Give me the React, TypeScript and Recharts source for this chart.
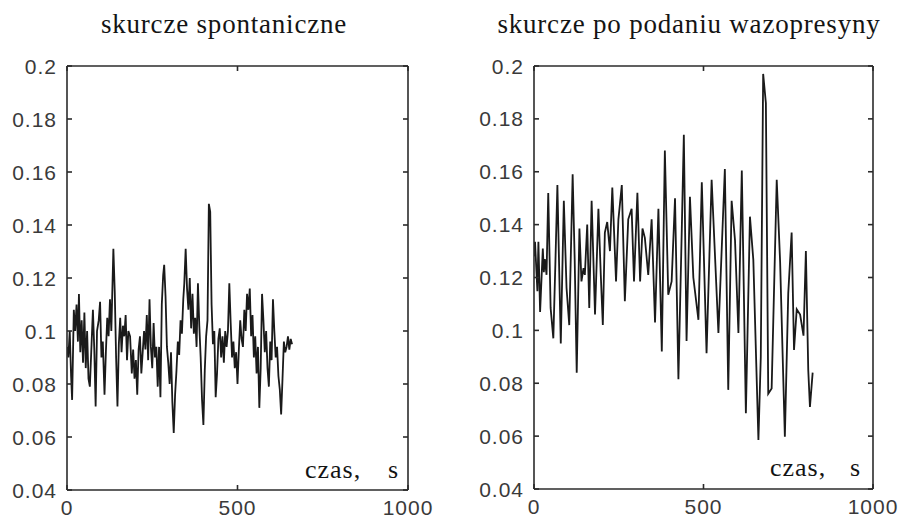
import React from 'react';
import { LineChart, Line, XAxis, YAxis } from 'recharts';

// ---- data ----
const leftTime = [0,4,8,12,15,20,24,28,32,35,39,43,47,51,55,59,63,67,72,76,80,84,88,93,97,101,105,110,114,118,122,126,130,136,140,144,148,152,156,160,164,168,172,176,180,185,190,194,198,202,206,210,214,218,222,226,230,234,238,242,246,250,254,258,262,266,270,274,278,282,285,289,293,297,301,305,309,313,317,321,325,329,333,337,341,344,348,352,356,360,364,368,372,376,380,384,388,392,396,400,404,408,412,416,420,424,428,432,436,440,444,448,452,456,460,464,468,472,476,480,484,488,492,496,500,504,508,512,516,520,524,528,532,536,540,544,548,552,556,560,564,568,572,576,580,584,588,592,596,600,604,608,612,616,620,624,628,632,636,640,644,648,652,656,660];
const leftValue = [0.094,0.090,0.100,0.083,0.074,0.108,0.100,0.110,0.096,0.114,0.092,0.104,0.088,0.107,0.086,0.100,0.082,0.079,0.095,0.108,0.093,0.0715,0.100,0.104,0.111,0.090,0.096,0.076,0.092,0.105,0.098,0.112,0.100,0.131,0.115,0.090,0.0715,0.095,0.105,0.092,0.102,0.098,0.106,0.089,0.100,0.098,0.084,0.093,0.082,0.089,0.076,0.093,0.098,0.084,0.092,0.100,0.093,0.106,0.089,0.112,0.094,0.086,0.103,0.090,0.094,0.079,0.094,0.075,0.110,0.121,0.125,0.113,0.094,0.088,0.080,0.092,0.073,0.0615,0.076,0.085,0.096,0.091,0.104,0.099,0.112,0.118,0.131,0.116,0.108,0.120,0.101,0.114,0.099,0.105,0.094,0.118,0.102,0.090,0.074,0.0645,0.085,0.098,0.104,0.148,0.145,0.110,0.095,0.100,0.075,0.084,0.097,0.101,0.090,0.098,0.088,0.100,0.094,0.100,0.118,0.103,0.090,0.096,0.086,0.092,0.080,0.093,0.104,0.097,0.094,0.108,0.100,0.114,0.108,0.116,0.098,0.106,0.090,0.098,0.084,0.094,0.071,0.086,0.114,0.104,0.092,0.100,0.086,0.079,0.096,0.089,0.112,0.100,0.090,0.094,0.083,0.078,0.0685,0.082,0.096,0.092,0.094,0.098,0.093,0.097,0.095];

const rightTime = [0,3,10,13,18,26,29,32,37,42,49,57,63,69,79,88,96,104,114,120,126,134,140,146,150,157,163,170,180,190,197,203,209,216,224,231,242,249,259,268,278,288,295,305,313,320,327,337,347,357,367,377,386,396,406,416,426,436,442,450,460,470,485,495,509,524,544,563,573,583,593,603,613,625,637,647,662,669,676,684,691,701,716,726,740,750,760,767,775,785,795,802,809,814,822];
const rightValue = [0.128,0.1335,0.1148,0.1335,0.107,0.131,0.122,0.127,0.121,0.152,0.1085,0.097,0.125,0.155,0.095,0.149,0.116,0.102,0.159,0.127,0.084,0.1385,0.1185,0.1235,0.121,0.140,0.1085,0.149,0.106,0.146,0.121,0.102,0.137,0.141,0.130,0.154,0.1185,0.142,0.155,0.111,0.142,0.146,0.1185,0.152,0.1185,0.1385,0.135,0.121,0.142,0.103,0.146,0.092,0.168,0.1135,0.1185,0.150,0.0815,0.1385,0.174,0.096,0.1505,0.120,0.104,0.156,0.0914,0.157,0.099,0.161,0.0775,0.149,0.134,0.099,0.1605,0.0687,0.143,0.1266,0.0585,0.090,0.197,0.186,0.076,0.078,0.157,0.126,0.0598,0.114,0.137,0.0926,0.108,0.106,0.098,0.130,0.085,0.071,0.084];

const xTicks = [0, 500, 1000];
const yTicks = [0.04, 0.06, 0.08, 0.1, 0.12, 0.14, 0.16, 0.18, 0.2];
const titles = ['skurcze spontaniczne', 'skurcze po podaniu wazopresyny'];
const timeLabel = ['czas,', 's'];

const AXIS = '#2b2b2b';
const TICKTXT = '#3a3a3a';
const TICK_LEN = 5;
const LABEL_GAP = 10;
const fmt = (v: number) => String(Number(v.toFixed(2)));
const fontProps = { fontFamily: 'Liberation Sans, Arial, sans-serif', fontSize: 21, fill: TICKTXT, letterSpacing: 1 };

// label + inner tick for the left (value) axis
const LeftTick = (p: any) => {
  const x = Number(p.x);
  const y = Number(p.y);
  const edge = x + LABEL_GAP;
  return (
    <g>
      <line x1={edge} x2={edge + TICK_LEN} y1={y} y2={y} stroke={AXIS} strokeWidth={1.6} />
      <text x={x} y={y} dy="0.36em" textAnchor="end" {...fontProps}>{fmt(p.payload.value)}</text>
    </g>
  );
};
// label + inner tick for the bottom (time) axis
const BottomTick = (p: any) => {
  const x = Number(p.x);
  const y = Number(p.y);
  const edge = y - LABEL_GAP;
  return (
    <g>
      <line x1={x} x2={x} y1={edge} y2={edge - TICK_LEN} stroke={AXIS} strokeWidth={1.6} />
      <text x={x} y={y} dy="0.72em" textAnchor="middle" {...fontProps}>{fmt(p.payload.value)}</text>
    </g>
  );
};
const RightTick = (p: any) => {
  const x = Number(p.x);
  const y = Number(p.y);
  return <line x1={x} x2={x - TICK_LEN} y1={y} y2={y} stroke={AXIS} strokeWidth={1.6} />;
};
const TopTick = (p: any) => {
  const x = Number(p.x);
  const y = Number(p.y);
  return <line x1={x} x2={x} y1={y} y2={y + TICK_LEN} stroke={AXIS} strokeWidth={1.6} />;
};

type PanelProps = {
  time: number[];
  values: number[];
  margin: { top: number; right: number; bottom: number; left: number };
};

function Panel({ time, values, margin }: PanelProps) {
  const data = time.map((t, i) => ({ t, v: values[i] }));
  const axisLine = { stroke: AXIS, strokeWidth: 1.6 };
  return (
    <LineChart width={450} height={524} data={data} margin={margin}>
      <XAxis xAxisId="b" dataKey="t" type="number" domain={[0, 1000]} ticks={xTicks} allowDataOverflow
        orientation="bottom" height={30} tickSize={0} tickMargin={LABEL_GAP} tickLine={false}
        axisLine={axisLine} tick={BottomTick} interval={0} />
      <XAxis xAxisId="tm" dataKey="t" type="number" domain={[0, 1000]} ticks={xTicks} allowDataOverflow
        orientation="top" mirror tickSize={0} tickMargin={0} tickLine={false} axisLine={axisLine}
        tick={TopTick} interval={0} />
      <YAxis yAxisId="l" type="number" domain={[0.04, 0.2]} ticks={yTicks} allowDataOverflow
        orientation="left" width={60} tickSize={0} tickMargin={LABEL_GAP} tickLine={false}
        axisLine={axisLine} tick={LeftTick} interval={0} />
      <YAxis yAxisId="rm" type="number" domain={[0.04, 0.2]} ticks={yTicks} allowDataOverflow
        orientation="right" mirror tickSize={0} tickMargin={0} tickLine={false} axisLine={axisLine}
        tick={RightTick} interval={0} />
      <Line xAxisId="b" yAxisId="l" dataKey="v" type="linear" stroke="#1a1a1a" strokeWidth={1.8}
        dot={false} isAnimationActive={false} />
      <Line xAxisId="tm" yAxisId="rm" dataKey="v" type="linear" stroke="none" strokeWidth={0}
        dot={false} isAnimationActive={false} legendType="none" />
    </LineChart>
  );
}

export default function App() {
  const serif = 'Liberation Serif, Times New Roman, serif';
  return (
    <div style={{ position: 'absolute', left: 0, top: 0, width: 900, height: 524, background: '#fff' }}>
      <div style={{ position: 'absolute', left: 0, top: 0 }}>
        <Panel time={leftTime} values={leftValue} margin={{ top: 66, right: 42, bottom: 4, left: 7 }} />
      </div>
      <div style={{ position: 'absolute', left: 450, top: 0 }}>
        <Panel time={rightTime} values={rightValue} margin={{ top: 66, right: 27, bottom: 5, left: 24 }} />
      </div>
      <svg width={900} height={524} style={{ position: 'absolute', left: 0, top: 0, pointerEvents: 'none' }}>
        <g fontFamily={serif} fill="#141414">
          <text x={224} y={33} fontSize={27} letterSpacing={0.8} textAnchor="middle">{titles[0]}</text>
          <text x={689} y={33} fontSize={27} letterSpacing={0.8} textAnchor="middle">{titles[1]}</text>
          <text x={305} y={478} fontSize={26} letterSpacing={1}>{timeLabel[0]}</text>
          <text x={388} y={478} fontSize={26}>{timeLabel[1]}</text>
          <text x={770} y={476} fontSize={26} letterSpacing={1}>{timeLabel[0]}</text>
          <text x={850} y={476} fontSize={26}>{timeLabel[1]}</text>
        </g>
      </svg>
    </div>
  );
}
